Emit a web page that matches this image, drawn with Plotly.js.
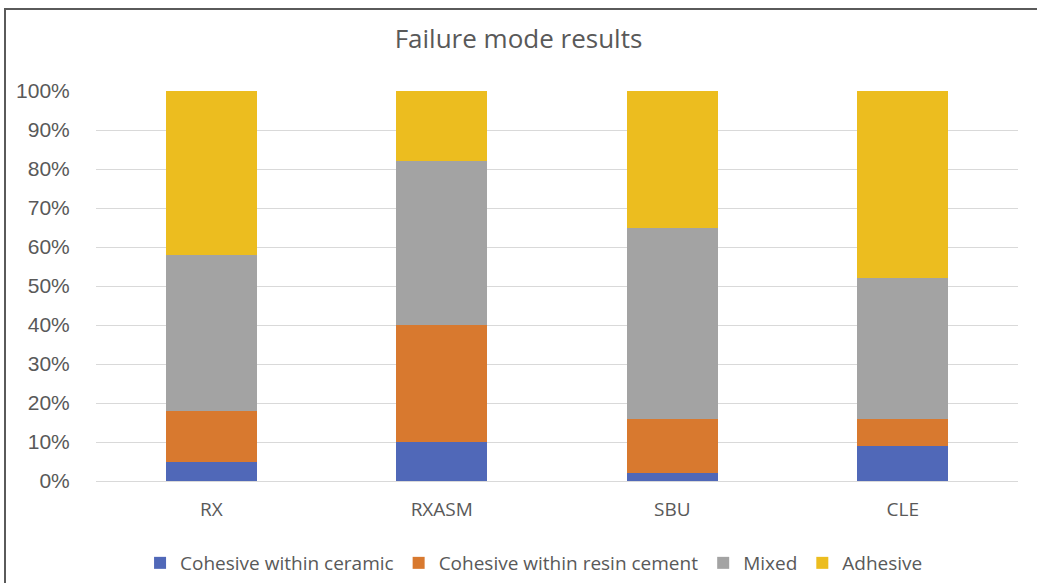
<!DOCTYPE html>
<html>
<head>
<meta charset="utf-8">
<script src="https://cdn.plot.ly/plotly-3.0.1.min.js"></script>
<style>
  html, body { margin: 0; padding: 0; background: #fff; }
  #chart { width: 1037px; height: 583px; position: relative; }
  #frame { position: absolute; left: 4px; top: 8px; width: 1040px; height: 600px;
           border-top: 2px solid #5a5a5a; border-left: 2px solid #5a5a5a; pointer-events: none; }
</style>
</head>
<body>
<div id="chart"></div>
<div id="frame"></div>
<script>
const categories = ["RX", "RXASM", "SBU", "CLE"];
const seriesNames = ["Cohesive within ceramic", "Cohesive within resin cement", "Mixed", "Adhesive"];
const cohesiveCeramic = [5, 10, 2, 9];
const cohesiveResin = [13, 30, 14, 7];
const mixed = [40, 42, 49, 36];
const adhesive = [42, 18, 35, 48];
const yTicks = [0, 10, 20, 30, 40, 50, 60, 70, 80, 90, 100];

const colors = ["#5068b8", "#d8792f", "#a3a3a3", "#ecbd1f"];
const values = [cohesiveCeramic, cohesiveResin, mixed, adhesive];

const traces = values.map((v, i) => ({
  type: "bar",
  name: seriesNames[i],
  x: categories,
  y: v,
  marker: { color: colors[i], line: { width: 0 } },
  hoverinfo: "x+y+name"
}));

const layout = {
  width: 1037,
  height: 583,
  barmode: "stack",
  bargap: 0.605,
  paper_bgcolor: "#ffffff",
  plot_bgcolor: "#ffffff",
  margin: { l: 96, r: 19, t: 91, b: 102, pad: 0, autoexpand: false },
  title: {
    text: "Failure mode results",
    font: { family: "Open Sans, sans-serif", size: 26, color: "#595959" },
    x: 0.5, xanchor: "center",
    y: 1 - 39 / 583, yref: "container", yanchor: "middle"
  },
  xaxis: {
    type: "category",
    showgrid: false,
    showline: false,
    zeroline: false,
    automargin: false,
    ticks: "outside",
    ticklen: 11,
    tickcolor: "rgba(0,0,0,0)",
    tickfont: { family: "Open Sans, sans-serif", size: 19, color: "#595959" }
  },
  yaxis: {
    range: [0, 100],
    automargin: false,
    tickvals: yTicks,
    ticktext: yTicks.map(t => t + "%"),
    showgrid: true,
    gridcolor: "#d9d9d9",
    gridwidth: 1,
    zeroline: true,
    zerolinecolor: "#d9d9d9",
    zerolinewidth: 1,
    showline: false,
    ticks: "outside",
    ticklen: 21,
    tickcolor: "rgba(0,0,0,0)",
    tickfont: { family: "Liberation Sans, Arial, sans-serif", size: 21, color: "#595959" }
  },
  legend: {
    orientation: "h",
    x: 0.515, xanchor: "center", xref: "container",
    y: 1 - 563 / 583, yanchor: "middle", yref: "container",
    font: { family: "Open Sans, sans-serif", size: 19, color: "#595959" },
    traceorder: "normal",
    itemwidth: 30
  },
  showlegend: true
};

Plotly.newPlot("chart", traces, layout, { displayModeBar: false, staticPlot: true });
</script>
</body>
</html>
